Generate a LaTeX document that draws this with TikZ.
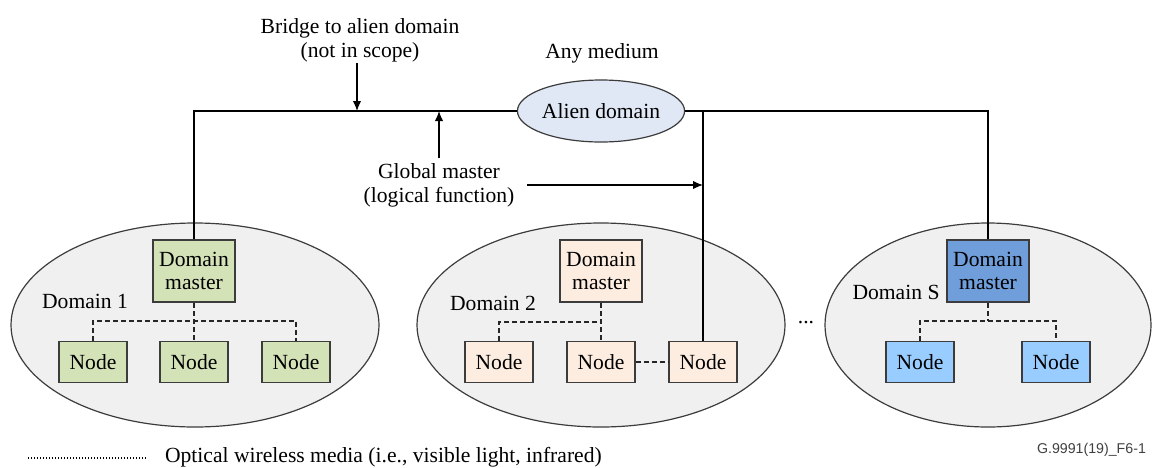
\documentclass[tikz,border=0pt]{standalone}
\usepackage{fontspec}
\setmainfont{Liberation Serif}
\newfontfamily\figsans{Liberation Sans}
\usepackage{tikz}
\usetikzlibrary{
    arrows.meta,
    shapes.geometric,
    positioning
}
\definecolor{dgreen}{RGB}{212,226,184}
\definecolor{dpeach}{RGB}{253,237,224}
\definecolor{dblue}{RGB}{112,158,218}
\definecolor{lblue}{RGB}{153,204,255}
\definecolor{alienfill}{RGB}{224,232,245}
\definecolor{areafill}{RGB}{240,240,240}
\definecolor{edgegray}{RGB}{60,60,60}

\begin{document}
\begin{tikzpicture}[x=0.5pt, y=-0.5pt,
        font=\fontsize{10.8}{12}\selectfont,
        area/.style={ellipse, draw=edgegray, line width=0.6pt, fill=areafill,
            minimum width=184pt, minimum height=102pt, inner sep=0pt},
        alien/.style={ellipse, draw=edgegray, line width=0.6pt, fill=alienfill,
            minimum width=82pt, minimum height=31pt, inner sep=0pt},
        master/.style={rectangle, draw=edgegray, line width=0.9pt, align=center,
            minimum width=41pt, minimum height=31pt, inner sep=0pt,
            font=\fontsize{10.8}{11.5}\selectfont},
        dnode/.style={rectangle, draw=edgegray, line width=0.9pt,
            minimum width=34pt, minimum height=20.5pt, inner sep=0pt},
        wire/.style={draw=black, line width=0.6pt},
        wireless/.style={draw=black!85, line width=0.9pt, dash pattern=on 2.5pt off 1.5pt},
        legenddots/.style={draw=black, line width=0.75pt, dash pattern=on 0.7pt off 0.8pt},
        pointer/.style={line width=0.6pt, -{Latex[length=5pt, width=4.2pt]}}]
    \useasboundingbox (0,0) rectangle (1156,467);

    % domains
    \node[area] (d1) at (195,325) {};
    \node[area] (d2) at (601,325) {};
    \node[area, minimum width=163pt] (ds) at (988,325) {};

    \node (d1lbl) at (85,301) {Domain 1};
    \node (d2lbl) at (493,303) {Domain 2};
    \node (dslbl) at (896,292) {Domain S};
    \node (dots) at (806,323) {...};

    % domain masters
    \node[master, fill=dgreen] (dm1) at (194,271) {Domain\\master};
    \node[master, fill=dpeach] (dm2) at (601,271) {Domain\\master};
    \node[master, fill=dblue] (dms) at (988,271) {Domain\\master};

    % nodes
    \node[dnode, fill=dgreen] (n11) at (93,362) {Node};
    \node[dnode, fill=dgreen] (n12) at (194,362) {Node};
    \node[dnode, fill=dgreen] (n13) at (296,362) {Node};
    \node[dnode, fill=dpeach] (n21) at (499,362) {Node};
    \node[dnode, fill=dpeach] (n22) at (601,362) {Node};
    \node[dnode, fill=dpeach] (n23) at (703,362) {Node};
    \node[dnode, fill=lblue] (ns1) at (920,362) {Node};
    \node[dnode, fill=lblue] (ns2) at (1056,362) {Node};

    % alien domain and bus
    \node[alien] (alien) at (601,111) {Alien domain};
    \node (medium) at (602,53) {Any medium};
    \coordinate (bridge) at (357,111);
    \coordinate (gm) at (439,111);
    \coordinate (tap) at (703,111);
    \coordinate (tapmid) at (703,185);

    \draw[wire] (dm1.north) |- (alien.west);
    \draw[wire] (alien.east) -| (dms.north);
    \draw[wire] (tap) -- (n23.north);

    % labels with pointers
    \node[align=center] (bridgetxt) at (360,40) {Bridge to alien domain\\(not in scope)};
    \node[align=center] (gmtxt) at (439,185) {Global master\\(logical function)};
    \draw[pointer] (357,63) -- (bridge);
    \draw[pointer] (439,158) -- (gm);
    \draw[pointer] (527,185) -- (tapmid);

    % optical wireless links
    \coordinate (j1) at (194,321);
    \coordinate (j2) at (601,322);
    \coordinate (js) at (988,321);
    \draw[wireless] (dm1.south) -- (n12.north);
    \draw[wireless] (n11.north) |- (j1) -| (n13.north);
    \draw[wireless] (dm2.south) -- (n22.north);
    \draw[wireless] (n21.north) |- (j2);
    \draw[wireless] (n22.east) -- (n23.west);
    \draw[wireless] (dms.south) -- (js);
    \draw[wireless] (ns1.north) |- (js) -| (ns2.north);

    % legend
    \coordinate (lega) at (28,458);
    \coordinate (legb) at (147,458);
    \draw[legenddots] (lega) -- (legb);
    \node[anchor=west] (legtxt) at (158,457) {Optical wireless media (i.e., visible light, infrared)};
    \node[anchor=east, font=\figsans\fontsize{7.1}{8}\selectfont, text=black!75] (figid) at (1153,450) {G.9991(19)\_F6-1};
\end{tikzpicture}
\end{document}
